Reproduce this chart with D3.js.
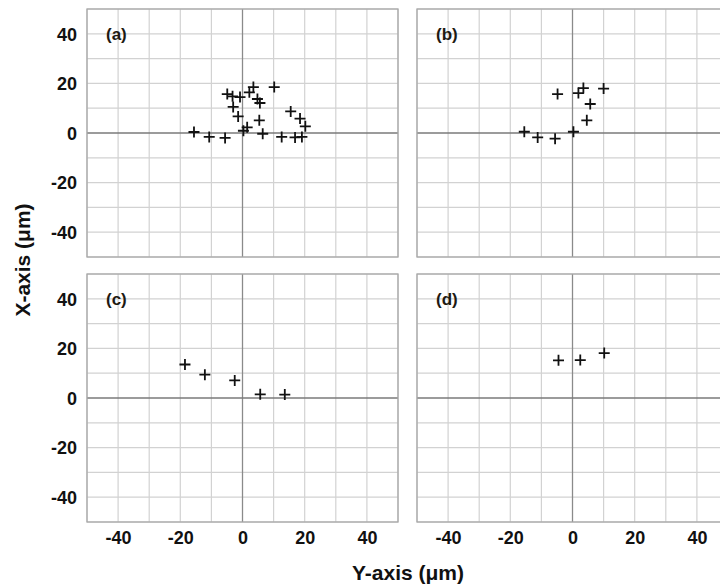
<!DOCTYPE html>
<html>
<head>
<meta charset="utf-8">
<script src="https://cdn.jsdelivr.net/npm/d3@7"></script>
<style>
  body { margin: 0; background: #fff; }
  text { font-family: "Liberation Sans", Arial, sans-serif; font-weight: bold; fill: #111; }
</style>
</head>
<body>
<svg id="svg1" width="720" height="586"></svg>
<script>
// data: [y-axis (horizontal), x-axis (vertical)] in µm
const pointsA = [
  [-15.6, 0.4], [-10.7, -1.6], [-5.6, -2.0], [-4.9, 15.7], [-3.2, 14.8], [-0.8, 14.5],
  [-3.0, 10.5], [-1.4, 6.7], [0.3, 0.9], [1.5, 2.3], [2.2, 16.4], [3.5, 18.5],
  [4.8, 13.7], [5.6, 12.1], [5.4, 5.1], [6.5, -0.3], [10.2, 18.5], [12.6, -1.6],
  [15.5, 8.7], [18.5, 5.8], [20.2, 2.7], [16.9, -1.8], [19.1, -1.6]
];
const pointsB = [
  [-15.5, 0.5], [-11.2, -1.8], [-5.6, -2.3], [-4.8, 15.7], [0.3, 0.5],
  [1.9, 16.1], [3.5, 18.1], [5.7, 11.7], [4.6, 5.1], [10.0, 17.9]
];
const pointsC = [
  [-18.5, 13.5], [-12.1, 9.4], [-2.5, 7.1], [5.7, 1.5], [13.6, 1.4]
];
const pointsD = [
  [-4.5, 15.2], [2.5, 15.3], [10.2, 18.1]
];
const panelLabels = ["(a)", "(b)", "(c)", "(d)"];
const tickValues = [-40, -20, 0, 20, 40];
const gridValues = d3.range(-50, 51, 10);
const xTitle = "Y-axis (\u03bcm)";
const yTitle = "X-axis (\u03bcm)";

const svg = d3.select("svg#svg1");
const panelW = 311, panelH = 248;
const panels = [
  { data: pointsA, label: panelLabels[0], x0: 87, y0: 9, col: 0, row: 0 },
  { data: pointsB, label: panelLabels[1], x0: 417, y0: 9, col: 1, row: 0 },
  { data: pointsC, label: panelLabels[2], x0: 87, y0: 274, col: 0, row: 1 },
  { data: pointsD, label: panelLabels[3], x0: 417, y0: 274, col: 1, row: 1 }
];

const xScale = d3.scaleLinear().domain([-50, 50]).range([0, panelW]);
const yScale = d3.scaleLinear().domain([-50, 50]).range([panelH, 0]);
const tickFmt = d => String(d); // plain hyphen like the original

panels.forEach(p => {
  let g = svg.append("g").attr("transform", `translate(${p.x0},${p.y0})`);

  // gridlines
  g.selectAll("line.vg").data(gridValues.filter(v => v != 0)).join("line")
    .attr("class", "vg")
    .attr("x1", d => xScale(d)).attr("x2", d => xScale(d))
    .attr("y1", 0).attr("y2", panelH)
    .style("stroke", "#d2d2d2").style("stroke-width", 1.2);
  g.selectAll("line.hg").data(gridValues.filter(v => v != 0)).join("line")
    .attr("class", "hg")
    .attr("x1", 0).attr("x2", panelW)
    .attr("y1", d => yScale(d)).attr("y2", d => yScale(d))
    .style("stroke", "#d2d2d2").style("stroke-width", 1.2);

  // zero lines
  g.append("line")
    .attr("x1", xScale(0)).attr("x2", xScale(0)).attr("y1", 0).attr("y2", panelH)
    .style("stroke", "#8a8a8a").style("stroke-width", 1.3);
  g.append("line")
    .attr("x1", 0).attr("x2", panelW).attr("y1", yScale(0)).attr("y2", yScale(0))
    .style("stroke", "#7a7a7a").style("stroke-width", 1.4);

  // border
  g.append("rect")
    .attr("x", 0).attr("y", 0).attr("width", panelW).attr("height", panelH)
    .style("fill", "none").style("stroke", "#a8a8a8").style("stroke-width", 1.3);

  g.append("text")
    .attr("x", 19).attr("y", 31)
    .style("font-size", "17px")
    .style("fill", "#1e1a12")
    .text(p.label);

  // crosses
  g.selectAll("path.pt").data(p.data).join("path")
    .attr("class", "pt")
    .attr("transform", d => `translate(${xScale(d[0])},${yScale(d[1])})`)
    .attr("d", "M-5.5,0H5.5M0,-5.5V5.5")
    .style("stroke", "#111").style("stroke-width", 1.8);

  if (p.col == 0) {
    let leftAxis = d3.axisLeft(yScale).tickValues(tickValues).tickFormat(tickFmt)
      .tickSize(0).tickPadding(10);
    let ax = g.append("g").call(leftAxis);
    ax.select(".domain").remove();
    ax.selectAll("text").style("font-size", "18px").attr("dy", "0.35em");
  }
  if (p.row == 1) {
    let bottomAxis = d3.axisBottom(xScale).tickValues(tickValues).tickFormat(tickFmt)
      .tickSize(0).tickPadding(9);
    let ax = g.append("g").attr("transform", `translate(0,${panelH})`).call(bottomAxis);
    ax.select(".domain").remove();
    ax.selectAll("text").style("font-size", "18px");
  }
});

svg.append("text")
  .attr("x", 408).attr("y", 580)
  .attr("text-anchor", "middle")
  .style("font-size", "21px")
  .text(xTitle);

svg.append("text")
  .attr("transform", "translate(30,260) rotate(-90)")
  .attr("text-anchor", "middle")
  .style("font-size", "21px")
  .text(yTitle);
</script>
</body>
</html>
